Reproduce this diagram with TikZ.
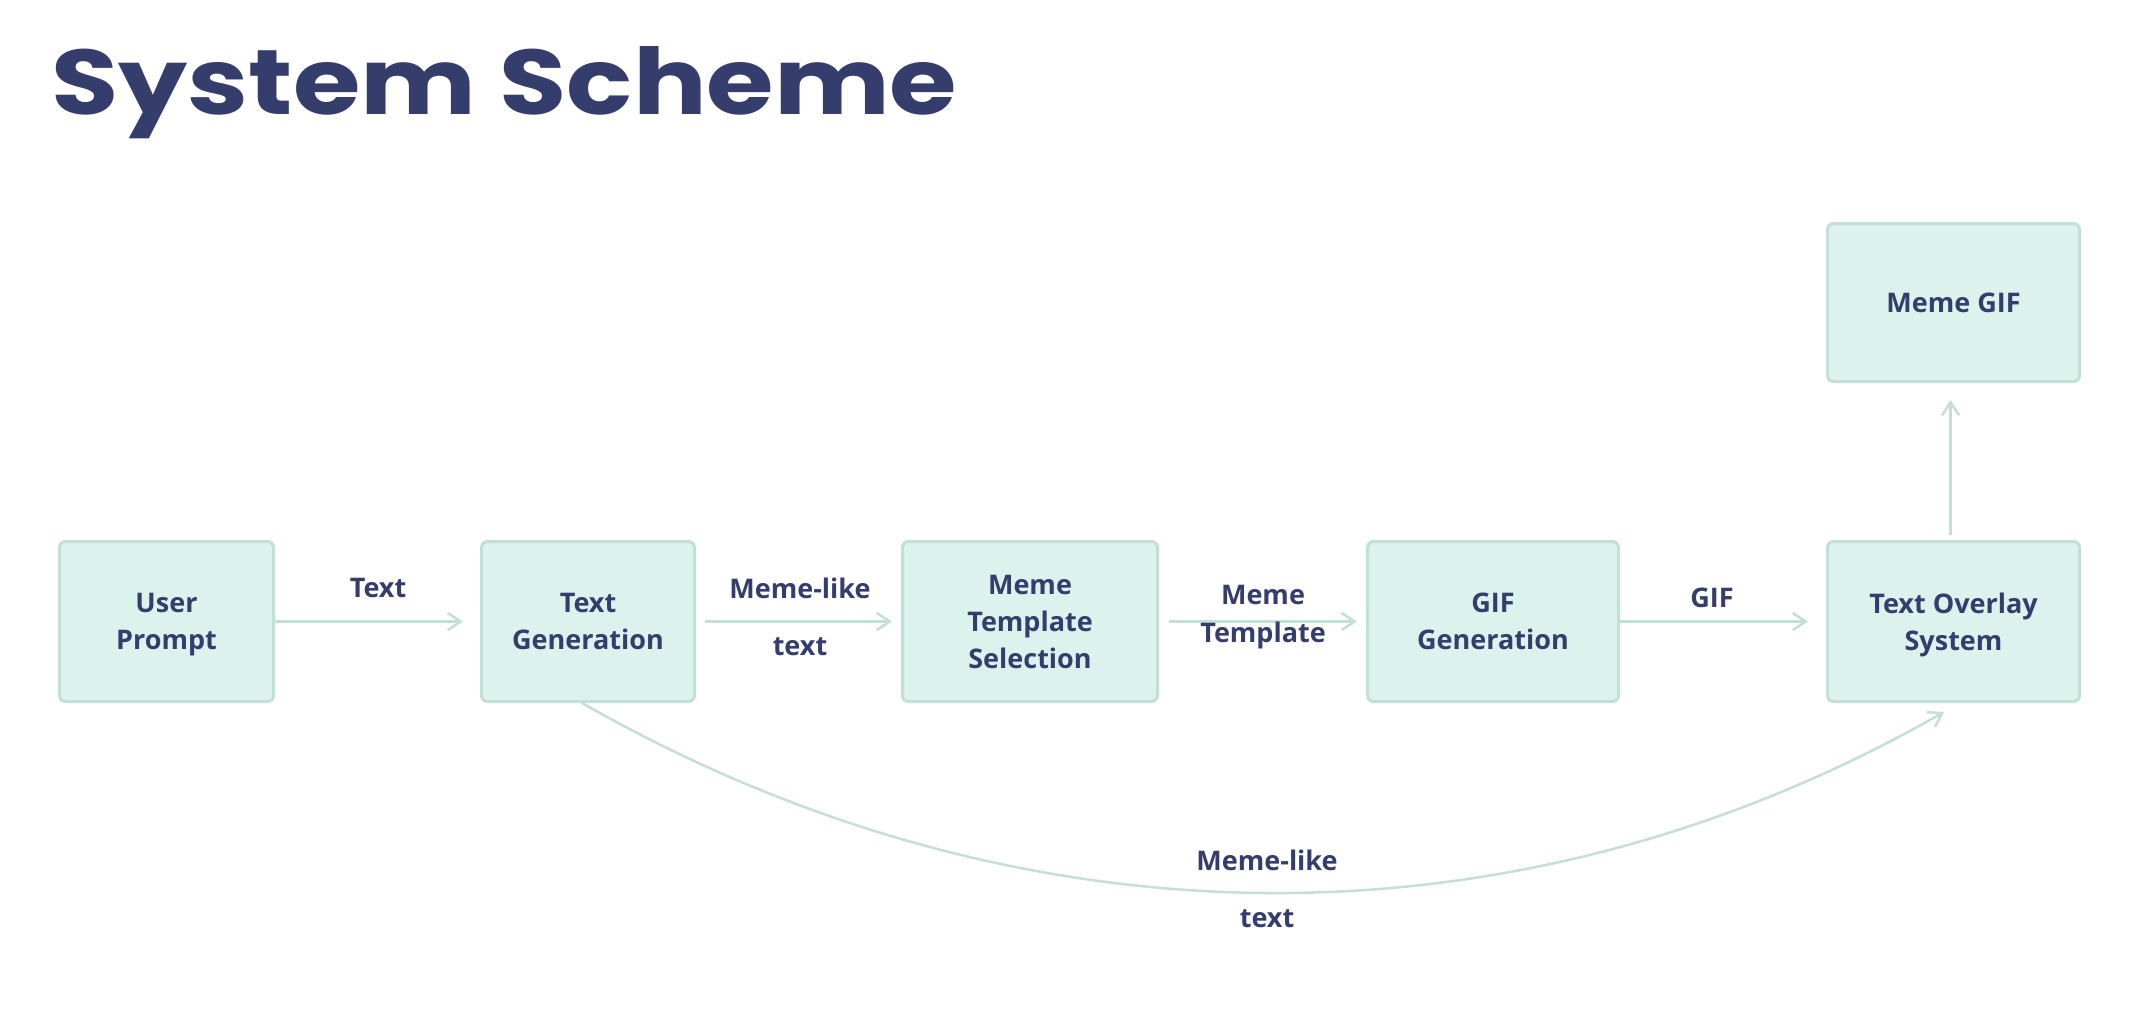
\documentclass[tikz,border=0pt]{standalone}
\usepackage{fontspec}
\usepackage{graphicx}
\setmainfont{Open Sans}
\newfontfamily\headfont{Poppins}
\usetikzlibrary{arrows.meta}

\definecolor{ink}{HTML}{343D6B}
\definecolor{boxfill}{HTML}{DBF3EC}
\definecolor{boxline}{HTML}{C3DFD6}

\begin{document}
\begin{tikzpicture}[x=1pt,y=-1pt,
  stage/.style={draw=boxline, line width=3pt, fill=boxfill,
    rounded corners=6pt, minimum height=160pt, align=center, text=ink,
    inner sep=0pt, text depth=0pt, font=\fontsize{27}{37}\selectfont\bfseries},
  flow/.style={draw=boxline, line width=2.5pt,
    -{Straight Barb[length=13pt,width=17pt]}},
  tag/.style={text=ink, inner sep=0pt, align=center,
    font=\fontsize{27}{38}\selectfont\bfseries}]

\useasboundingbox (0,0) rectangle (2154,1030);
\fill[white] (0,0) rectangle (2154,1030);

% title
\node[anchor=base west, inner sep=0pt, text=ink] (title) at (51,114)
  {\resizebox{906pt}{68pt}{\headfont\bfseries System Scheme}};

% stages of the pipeline
\node[stage, minimum width=214pt] (up)  at (166.5,621.5)  {User\\Prompt};
\node[stage, minimum width=213pt] (tg)  at (588,621.5)    {Text\\Generation};
\node[stage, minimum width=255pt] (mts) at (1030,621.5)   {Meme\\Template\\Selection};
\node[stage, minimum width=251pt] (gg)  at (1493,621.5)   {GIF\\Generation};
\node[stage, minimum width=252pt] (to)  at (1953.5,621.5) {Text Overlay\\System};
\node[stage, minimum width=252pt, minimum height=158pt] (mg) at (1953.5,302.5) {Meme GIF};

% connectors along the main row
\draw[flow, shorten >=17pt] (up.east) -- (tg.west);
\draw[flow, shorten <=9pt, shorten >=9pt] (tg.east) -- (mts.west);
\draw[flow, shorten <=10pt, shorten >=9pt] (mts.east) -- (gg.west);
\draw[flow, shorten >=18pt] (gg.east) -- (to.west);
\draw[flow, shorten <=5pt, shorten >=17pt] ([xshift=-3pt]to.north) -- ([xshift=-3pt]mg.south);

% bypass from text generation to the overlay stage
\coordinate (bend) at (1944,712);
\draw[flow] ([xshift=-6pt]tg.south) .. controls (1015,950) and (1511,959) .. (bend);

% connector labels
\node[tag] (l1)  at (378,588)  {Text};
\node[tag] (l2a) at (800,588)  {Meme-like};
\node[tag] (l2b) at (800,647)  {text};
\node[tag] (l3)  at (1263,617) {Meme\\Template};
\node[tag] (l4)  at (1712,598) {GIF};
\node[tag] (l5a) at (1267,860) {Meme-like};
\node[tag] (l5b) at (1267,919) {text};
\end{tikzpicture}
\end{document}
